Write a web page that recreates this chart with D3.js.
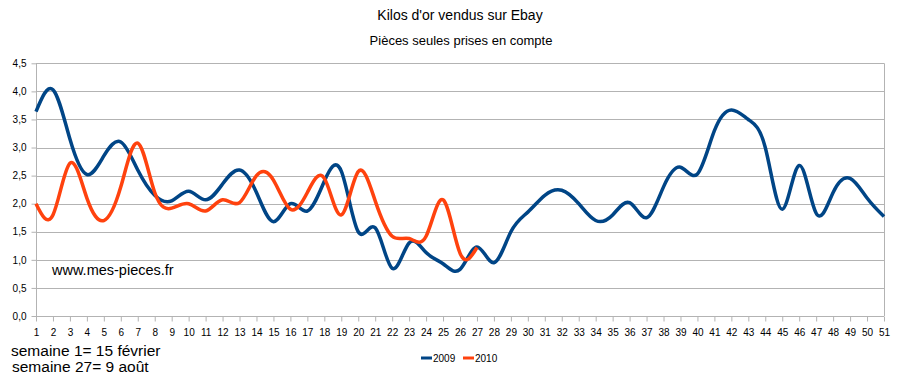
<!DOCTYPE html>
<html>
<head>
<meta charset="utf-8">
<script src="https://cdn.jsdelivr.net/npm/d3@7"></script>
<style>
  body { margin: 0; background: #fff; }
  svg { display: block; font-family: "Liberation Sans", Arial, sans-serif; }
  .grid line { stroke: #b3b3b3; stroke-width: 1; }
  .tick text { fill: #000; }
</style>
</head>
<body>
<svg width="923" height="378"></svg>
<script>
// weeks 1..51
var weeks = d3.range(1, 52);
var yTicks = [0, 0.5, 1, 1.5, 2, 2.5, 3, 3.5, 4, 4.5];

var values2009 = [3.64, 4.03, 3.15, 2.52, 2.85, 3.1, 2.6, 2.15, 2.05, 2.22,
                  2.07, 2.35, 2.6, 2.2, 1.68, 2.0, 1.87, 2.4, 2.58, 1.5,
                  1.57, 0.85, 1.3, 1.13, 0.93, 0.83, 1.23, 0.95, 1.5, 1.85,
                  2.15, 2.24, 2.0, 1.7, 1.8, 2.02, 1.75, 2.3, 2.65, 2.53,
                  3.3, 3.67, 3.5, 3.0, 1.9, 2.68, 1.83, 2.2, 2.45, 2.1, 1.77];
var values2010 = [2.0, 1.8, 2.72, 2.1, 1.7, 2.3, 3.08, 2.2, 1.92, 2.0,
                  1.87, 2.07, 2.02, 2.5, 2.42, 1.9, 2.2, 2.45, 1.8, 2.57,
                  2.05, 1.42, 1.38, 1.42, 2.07, 1.12, 1.22];

var seriesNames = ["2009", "2010"];
var seriesColors = ["#004586", "#ff420e"];

var svg = d3.select("svg");

var x = d3.scaleLinear().domain([1, 51]).range([36, 884]);
var y = d3.scaleLinear().domain([0, 4.5]).range([316, 63.3]);
var fmt = function(d) { return d3.format(".1f")(d).replace(".", ","); };

// grid
svg.append("g")
    .attr("class", "grid")
    .selectAll("line")
    .data(yTicks)
    .join("line")
    .attr("x1", 36).attr("x2", 884)
    .attr("y1", function(d) { return Math.round(y(d)) + 0.5; })
    .attr("y2", function(d) { return Math.round(y(d)) + 0.5; });

// right border
svg.append("line")
    .attr("x1", 884.5).attr("x2", 884.5)
    .attr("y1", y(4.5)).attr("y2", y(0))
    .attr("stroke", "#b3b3b3");

// y axis
var yAxis = svg.append("g")
    .attr("transform", "translate(36.5,0)")
    .call(d3.axisLeft(y).tickValues(yTicks).tickFormat(fmt).tickSize(5).tickPadding(5));
yAxis.selectAll("line, path").attr("stroke", "#b3b3b3");
yAxis.select("path").attr("d", "M0," + y(4.5) + "V" + y(0));
yAxis.selectAll("text").style("font-size", "10px").attr("font-family", null);

// x axis
var xAxis = svg.append("g")
    .attr("transform", "translate(0," + (Math.round(y(0)) + 0.5) + ")")
    .call(d3.axisBottom(x).tickValues(weeks).tickFormat(d3.format("d")).tickSize(5).tickPadding(7));
xAxis.selectAll("line, path").attr("stroke", "#b3b3b3");
xAxis.select("path").attr("d", "M" + x(1) + ",0H" + x(51));
xAxis.selectAll("text").style("font-size", "10px").attr("font-family", null);

// lines
var line = d3.line()
    .x(function(d, i) { return x(weeks[i]); })
    .y(function(d) { return y(d); })
    .curve(d3.curveNatural);

[values2009, values2010].forEach(function(vals, k) {
  svg.append("path")
      .datum(vals)
      .attr("fill", "none")
      .attr("stroke", seriesColors[k])
      .attr("stroke-width", 3.5)
      .attr("stroke-linejoin", "round")
      .attr("d", line);
});

// titles
svg.append("text")
    .attr("x", 460).attr("y", 20)
    .attr("text-anchor", "middle")
    .style("font-size", "14px")
    .text("Kilos d'or vendus sur Ebay");

svg.append("text")
    .attr("x", 461).attr("y", 45)
    .attr("text-anchor", "middle")
    .style("font-size", "13px")
    .text("Pièces seules prises en compte");

svg.append("text")
    .attr("x", 52).attr("y", 275)
    .style("font-size", "14.5px")
    .text("www.mes-pieces.fr");

svg.append("text")
    .attr("x", 11).attr("y", 356)
    .style("font-size", "15.5px")
    .text("semaine 1= 15 février");

svg.append("text")
    .attr("x", 12).attr("y", 372)
    .style("font-size", "15.5px")
    .text("semaine 27= 9 août");

// legend
var legend = svg.append("g")
    .selectAll("g")
    .data(seriesNames)
    .join("g")
    .attr("transform", function(d, i) { return "translate(" + (421 + i * 42) + ",358)"; });

legend.append("line")
    .attr("x1", 0).attr("x2", 11)
    .attr("stroke", function(d, i) { return seriesColors[i]; })
    .attr("stroke-width", 3);

legend.append("text")
    .attr("x", 12).attr("y", 4)
    .style("font-size", "10px")
    .text(function(d) { return d; });
</script>
</body>
</html>
